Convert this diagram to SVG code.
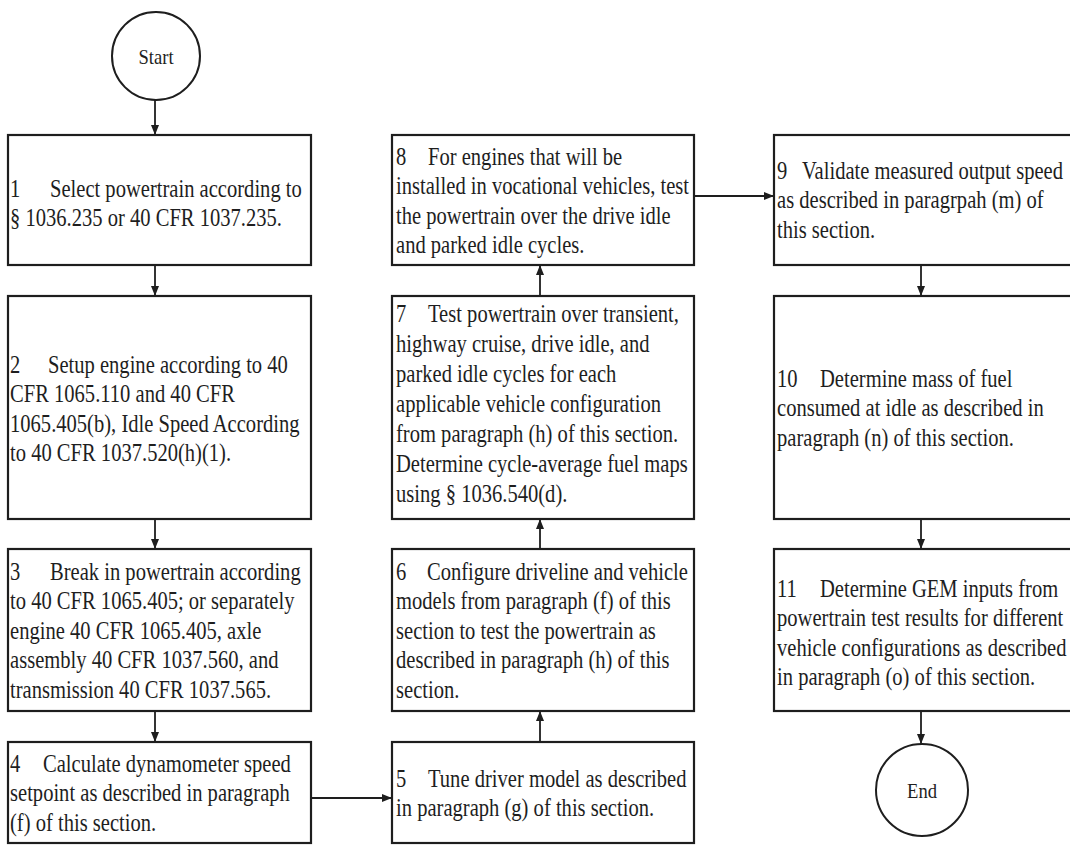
<svg xmlns="http://www.w3.org/2000/svg" width="1070" height="846" viewBox="0 0 1070 846">
<style>
.box{fill:#fff;stroke:#1e1e1e;stroke-width:2.2}
.term{fill:#fff;stroke:#1e1e1e;stroke-width:2}
.t{font-family:"Liberation Serif","Times New Roman",serif;font-size:24.5px;fill:#1e1e1e}
.c{font-family:"Liberation Serif","Times New Roman",serif;font-size:22px;fill:#1e1e1e;text-anchor:middle}
.e{stroke:#1e1e1e;stroke-width:1.8;fill:none;marker-end:url(#ah)}
</style>
<defs>
<marker id="ah" viewBox="0 0 10 8" refX="10" refY="4" markerWidth="10" markerHeight="8" markerUnits="userSpaceOnUse" orient="auto">
<path d="M0,0 L10,4 L0,8 z" fill="#1e1e1e"/>
</marker>
</defs>
<rect width="1070" height="846" fill="#fff"/>

<g id="connectors">
<line class="e" x1="155" y1="100" x2="155" y2="135"/>
<line class="e" x1="155" y1="265" x2="155" y2="296"/>
<line class="e" x1="155" y1="519" x2="155" y2="549"/>
<line class="e" x1="155" y1="711" x2="155" y2="742"/>
<line class="e" x1="311" y1="798" x2="392" y2="798"/>
<line class="e" x1="540" y1="742" x2="540" y2="711"/>
<line class="e" x1="540" y1="549" x2="540" y2="519"/>
<line class="e" x1="540" y1="296" x2="540" y2="265"/>
<line class="e" x1="694" y1="196" x2="774" y2="196"/>
<line class="e" x1="921" y1="265" x2="921" y2="296"/>
<line class="e" x1="921" y1="519" x2="921" y2="549"/>
<line class="e" x1="921" y1="711" x2="921" y2="744"/>
</g>

<g id="start">
<circle class="term" cx="156" cy="56" r="44"/>
<g transform="translate(156 0) scale(0.845 1)"><text class="c" x="0" y="64">Start</text></g>
</g>

<g id="n1">
<rect class="box" x="8" y="135" width="303" height="130"/>
<g transform="translate(10 0) scale(0.84 1)">
<text class="t" y="197"><tspan x="0">1</tspan><tspan x="47.6">Select powertrain according to</tspan></text>
<text class="t" x="0" y="226.5">§ 1036.235 or 40 CFR 1037.235.</text>
</g>
</g>

<g id="n2">
<rect class="box" x="8" y="296" width="303" height="223"/>
<g transform="translate(10 0) scale(0.84 1)">
<text class="t" y="373"><tspan x="0">2</tspan><tspan x="45.2">Setup engine according to 40</tspan></text>
<text class="t" x="0" y="402.5">CFR 1065.110 and 40 CFR</text>
<text class="t" x="0" y="432">1065.405(b), Idle Speed According</text>
<text class="t" x="0" y="461.5">to 40 CFR 1037.520(h)(1).</text>
</g>
</g>

<g id="n3">
<rect class="box" x="8" y="549" width="303" height="162"/>
<g transform="translate(10 0) scale(0.84 1)">
<text class="t" y="580"><tspan x="0">3</tspan><tspan x="47.6">Break in powertrain according</tspan></text>
<text class="t" x="0" y="609.5">to 40 CFR 1065.405; or separately</text>
<text class="t" x="0" y="639">engine 40 CFR 1065.405, axle</text>
<text class="t" x="0" y="668.5">assembly 40 CFR 1037.560, and</text>
<text class="t" x="0" y="698">transmission 40 CFR 1037.565.</text>
</g>
</g>

<g id="n4">
<rect class="box" x="8" y="742" width="303" height="101"/>
<g transform="translate(10 0) scale(0.84 1)">
<text class="t" y="772"><tspan x="0">4</tspan><tspan x="39.3">Calculate dynamometer speed</tspan></text>
<text class="t" x="0" y="801.5">setpoint as described in paragraph</text>
<text class="t" x="0" y="831">(f) of this section.</text>
</g>
</g>

<g id="n5">
<rect class="box" x="392" y="742" width="302" height="101"/>
<g transform="translate(396 0) scale(0.84 1)">
<text class="t" y="787"><tspan x="0">5</tspan><tspan x="38.1">Tune driver model as described</tspan></text>
<text class="t" x="0" y="816.5">in paragraph (g) of this section.</text>
</g>
</g>

<g id="n6">
<rect class="box" x="392" y="549" width="302" height="162"/>
<g transform="translate(396 0) scale(0.84 1)">
<text class="t" y="580"><tspan x="0">6</tspan><tspan x="36.9">Configure driveline and vehicle</tspan></text>
<text class="t" x="0" y="609.5">models from paragraph (f) of this</text>
<text class="t" x="0" y="639">section to test the powertrain as</text>
<text class="t" x="0" y="668.5">described in paragraph (h) of this</text>
<text class="t" x="0" y="698">section.</text>
</g>
</g>

<g id="n7">
<rect class="box" x="392" y="296" width="302" height="223"/>
<g transform="translate(396 0) scale(0.84 1)">
<text class="t" y="322"><tspan x="0">7</tspan><tspan x="38.1">Test powertrain over transient,</tspan></text>
<text class="t" x="0" y="352">highway cruise, drive idle, and</text>
<text class="t" x="0" y="382">parked idle cycles for each</text>
<text class="t" x="0" y="412">applicable vehicle configuration</text>
<text class="t" x="0" y="442">from paragraph (h) of this section.</text>
<text class="t" x="0" y="472">Determine cycle-average fuel maps</text>
<text class="t" x="0" y="502">using § 1036.540(d).</text>
</g>
</g>

<g id="n8">
<rect class="box" x="392" y="135" width="302" height="130"/>
<g transform="translate(396 0) scale(0.84 1)">
<text class="t" y="165"><tspan x="0">8</tspan><tspan x="38.1">For engines that will be</tspan></text>
<text class="t" x="0" y="194.5">installed in vocational vehicles, test</text>
<text class="t" x="0" y="224">the powertrain over the drive idle</text>
<text class="t" x="0" y="253.5">and parked idle cycles.</text>
</g>
</g>

<g id="n9">
<rect class="box" x="774" y="135" width="300" height="130"/>
<g transform="translate(777 0) scale(0.84 1)">
<text class="t" y="179"><tspan x="0">9</tspan><tspan x="29.8">Validate measured output speed</tspan></text>
<text class="t" x="0" y="208.5">as described in paragrpah (m) of</text>
<text class="t" x="0" y="238">this section.</text>
</g>
</g>

<g id="n10">
<rect class="box" x="774" y="296" width="300" height="223"/>
<g transform="translate(777 0) scale(0.84 1)">
<text class="t" y="387"><tspan x="0">10</tspan><tspan x="51.2">Determine mass of fuel</tspan></text>
<text class="t" x="0" y="416.5">consumed at idle as described in</text>
<text class="t" x="0" y="446">paragraph (n) of this section.</text>
</g>
</g>

<g id="n11">
<rect class="box" x="774" y="549" width="300" height="162"/>
<g transform="translate(777 0) scale(0.84 1)">
<text class="t" y="597"><tspan x="0">11</tspan><tspan x="51.2">Determine GEM inputs from</tspan></text>
<text class="t" x="0" y="626.5">powertrain test results for different</text>
<text class="t" x="0" y="656">vehicle configurations as described</text>
<text class="t" x="0" y="685.5">in paragraph (o) of this section.</text>
</g>
</g>

<g id="end">
<circle class="term" cx="922" cy="790" r="46"/>
<g transform="translate(922 0) scale(0.845 1)"><text class="c" x="0" y="798">End</text></g>
</g>
</svg>
